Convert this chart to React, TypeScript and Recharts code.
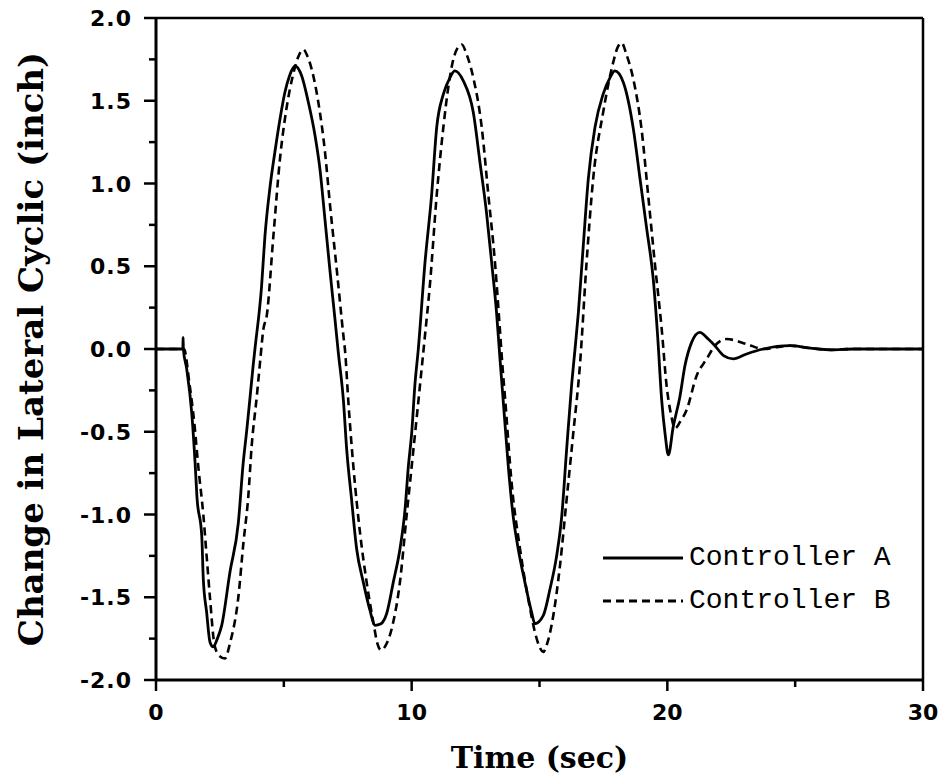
import React from "react";
import {
  LineChart,
  Line,
  XAxis,
  YAxis,
  ReferenceLine,
} from "recharts";

// Controller A (solid) – time (sec) and change in lateral cyclic (inch)
const timeA = [
  0, 1.05, 1.06, 1.07, 1.2, 1.4, 1.53, 1.6, 1.79, 1.85, 1.98, 2.11, 2.24, 2.4,
  2.57, 2.89, 3.22, 3.41, 3.55, 3.68, 3.8, 3.87, 4.13, 4.26, 4.46, 4.65, 4.85,
  5.04, 5.22, 5.44, 5.7, 5.96, 6.22, 6.41, 6.61, 6.8, 7.0, 7.13, 7.33, 7.46,
  7.65, 7.85, 8.11, 8.37, 8.56, 8.8, 9.02, 9.28, 9.54, 9.74, 9.87, 10.0, 10.13,
  10.26, 10.52, 10.78, 10.98, 11.24, 11.5, 11.69, 12.02, 12.41, 12.67, 12.93,
  13.13, 13.32, 13.45, 13.58, 13.78, 13.97, 14.17, 14.43, 14.69, 14.82, 15.15,
  15.41, 15.67, 15.87, 16.06, 16.26, 16.39, 16.52, 16.71, 16.91, 17.17, 17.49,
  17.76, 17.95, 18.28, 18.67, 18.93, 19.19, 19.45, 19.62, 19.78, 19.91, 20.04,
  20.23, 20.49, 20.69, 20.95, 21.27, 21.6, 21.86, 22.2, 22.58, 23.1, 23.75,
  24.8, 25.6, 26.4, 27.3, 30,
];
const valueA = [
  0, 0, 0.07, 0, -0.12, -0.39, -0.69, -0.89, -1.13, -1.39, -1.59, -1.77, -1.8,
  -1.75, -1.67, -1.35, -1.05, -0.69, -0.49, -0.29, -0.1, 0, 0.38, 0.68, 0.98,
  1.19, 1.39, 1.55, 1.65, 1.71, 1.65, 1.49, 1.29, 1.09, 0.78, 0.48, 0.18, -0.02,
  -0.31, -0.61, -0.91, -1.21, -1.41, -1.58, -1.67, -1.66, -1.6, -1.41, -1.21,
  -0.97, -0.71, -0.51, -0.21, 0, 0.52, 0.93, 1.34, 1.54, 1.64, 1.68, 1.62, 1.43,
  1.13, 0.82, 0.52, 0.22, -0.05, -0.31, -0.71, -1.01, -1.21, -1.41, -1.59,
  -1.66, -1.61, -1.45, -1.25, -1.01, -0.61, -0.21, 0, 0.22, 0.62, 1.03, 1.34,
  1.54, 1.64, 1.68, 1.61, 1.33, 1.03, 0.73, 0.42, 0.08, -0.31, -0.51, -0.64,
  -0.47, -0.29, -0.1, 0.04, 0.1, 0.06, 0.02, -0.04, -0.06, -0.03, 0, 0.02,
  0.005, -0.005, 0, 0,
];

// Controller B (dashed)
const timeB = [
  0, 1.1, 1.3, 1.5, 1.66, 1.85, 1.98, 2.11, 2.28, 2.45, 2.7, 2.89, 3.22, 3.42,
  3.61, 3.74, 3.94, 4.07, 4.2, 4.33, 4.59, 4.85, 5.1, 5.35, 5.55, 5.76, 5.92,
  6.09, 6.35, 6.61, 6.8, 7.07, 7.33, 7.4, 7.52, 7.72, 7.98, 8.24, 8.5, 8.66,
  8.8, 8.95, 9.28, 9.54, 9.8, 10.0, 10.2, 10.39, 10.5, 10.72, 10.98, 11.24,
  11.45, 11.63, 11.8, 11.96, 12.15, 12.41, 12.74, 13.0, 13.26, 13.45, 13.55,
  13.65, 13.91, 14.24, 14.56, 14.82, 15.0, 15.15, 15.3, 15.54, 15.8, 16.06,
  16.32, 16.58, 16.84, 17.1, 17.49, 17.88, 18.05, 18.21, 18.4, 18.67, 18.99,
  19.25, 19.51, 19.78, 19.97, 20.15, 20.3, 20.5, 20.75, 21.15, 21.54, 21.86,
  22.32, 23.1, 23.75, 24.8, 25.6, 26.4, 27.3, 30,
];
const valueB = [
  0, 0, -0.2, -0.45, -0.72, -1.0, -1.25, -1.5, -1.78, -1.85, -1.87, -1.78, -1.5,
  -1.17, -0.89, -0.59, -0.29, -0.08, 0.12, 0.2, 0.68, 1.15, 1.45, 1.65, 1.76,
  1.81, 1.77, 1.69, 1.49, 1.19, 0.88, 0.48, 0.08, -0.02, -0.31, -0.71, -1.11,
  -1.41, -1.65, -1.78, -1.82, -1.8, -1.65, -1.41, -1.01, -0.71, -0.41, -0.12,
  0.05, 0.4, 0.93, 1.34, 1.6, 1.75, 1.82, 1.84, 1.78, 1.64, 1.34, 0.93, 0.52,
  0.12, -0.1, -0.29, -0.81, -1.21, -1.51, -1.71, -1.8, -1.83, -1.78, -1.61,
  -1.31, -0.91, -0.51, -0.1, 0.52, 1.03, 1.43, 1.73, 1.82, 1.85, 1.78, 1.63,
  1.33, 0.93, 0.52, 0.12, -0.22, -0.4, -0.48, -0.44, -0.37, -0.16, -0.06, 0.02,
  0.06, 0.03, 0, 0.02, 0.005, -0.005, 0, 0,
];

const xTicks = [0, 5, 10, 15, 20, 25, 30];
const yTicks = [
  -2, -1.75, -1.5, -1.25, -1, -0.75, -0.5, -0.25, 0, 0.25, 0.5, 0.75, 1, 1.25,
  1.5, 1.75, 2,
];
const seriesNames = ["Controller A", "Controller B"];

const seriesA = timeA.map((t, i) => ({ t, v: valueA[i] }));
const seriesB = timeB.map((t, i) => ({ t, v: valueB[i] }));

const tickFont = "'DejaVu Sans', sans-serif";
const titleFont = "'DejaVu Serif', serif";

function XTick(props: any) {
  const { x, y, payload } = props;
  const major = payload.value % 10 === 0;
  return (
    <g>
      <line x1={x} x2={x} y1={y} y2={y + (major ? 11 : 7)} stroke="#000" strokeWidth={2.5} />
      {major && (
        <text
          x={x}
          y={y + 40}
          textAnchor="middle"
          fontFamily={tickFont}
          fontWeight="bold"
          fontSize={22}
          fill="#000"
        >
          {payload.value}
        </text>
      )}
    </g>
  );
}

function YTick(props: any) {
  const { x, y, payload } = props;
  const v = payload.value;
  const major = Math.abs(v * 2 - Math.round(v * 2)) < 1e-6;
  return (
    <g>
      <line x1={x} x2={x - (major ? 12 : 7)} y1={y} y2={y} stroke="#000" strokeWidth={2.5} />
      {major && (
        <text
          x={x - 24}
          y={y + 8}
          textAnchor="end"
          fontFamily={tickFont}
          fontWeight="bold"
          fontSize={22}
          letterSpacing={1}
          fill="#000"
        >
          {v.toFixed(1)}
        </text>
      )}
    </g>
  );
}

function LegendBox() {
  const row = (dash: string | undefined, name: string) => (
    <div style={{ display: "flex", alignItems: "center", height: 43 }}>
      <svg width={82} height={10}>
        <line x1={0} x2={80} y1={5} y2={5} stroke="#000" strokeWidth={3} strokeDasharray={dash} />
      </svg>
      <span
        style={{
          fontFamily: "'Liberation Mono', monospace",
          fontSize: 28,
          color: "#000",
          marginLeft: 4,
          whiteSpace: "nowrap",
        }}
      >
        {name}
      </span>
    </div>
  );
  return (
    <div style={{ position: "absolute", left: 603, top: 536, width: 320 }}>
      {row(undefined, seriesNames[0])}
      {row("8 5", seriesNames[1])}
    </div>
  );
}

export default function App() {
  return (
    <div style={{ position: "absolute", left: 0, top: 0, width: 940, height: 776, background: "#fff" }}>
      <LineChart width={940} height={776} margin={{ top: 18, right: 17, bottom: 0, left: 0 }}>
        <XAxis
          dataKey="t"
          type="number"
          domain={[0, 30]}
          ticks={xTicks}
          interval={0}
          height={96}
          tickSize={0}
          tickMargin={0}
          tickLine={false}
          axisLine={{ stroke: "#000", strokeWidth: 3 }}
          tick={<XTick />}
          allowDataOverflow
          label={{
            value: "Time (sec)",
            position: "insideBottom",
            offset: 8,
            style: { fontFamily: titleFont, fontWeight: "bold", fontSize: 30, fill: "#000" },
          }}
        />
        <YAxis
          type="number"
          domain={[-2, 2]}
          ticks={yTicks}
          interval={0}
          width={156}
          tickSize={0}
          tickMargin={0}
          tickLine={false}
          axisLine={{ stroke: "#000", strokeWidth: 3 }}
          tick={<YTick />}
          allowDataOverflow
          label={{
            value: "Change in Lateral Cyclic (inch)",
            angle: -90,
            position: "insideLeft",
            offset: 31,
            style: {
              textAnchor: "middle",
              fontFamily: titleFont,
              fontWeight: "bold",
              fontSize: 34,
              fill: "#000",
            },
          }}
        />
        <ReferenceLine y={2} stroke="#000" strokeWidth={2.5} />
        <ReferenceLine x={30} stroke="#000" strokeWidth={2.5} />
        <Line
          data={seriesA}
          dataKey="v"
          name={seriesNames[0]}
          type="monotone"
          stroke="#000"
          strokeWidth={2.8}
          dot={false}
          isAnimationActive={false}
        />
        <Line
          data={seriesB}
          dataKey="v"
          name={seriesNames[1]}
          type="monotone"
          stroke="#000"
          strokeWidth={2.6}
          strokeDasharray="8 5"
          dot={false}
          isAnimationActive={false}
        />
      </LineChart>
      <LegendBox />
    </div>
  );
}
